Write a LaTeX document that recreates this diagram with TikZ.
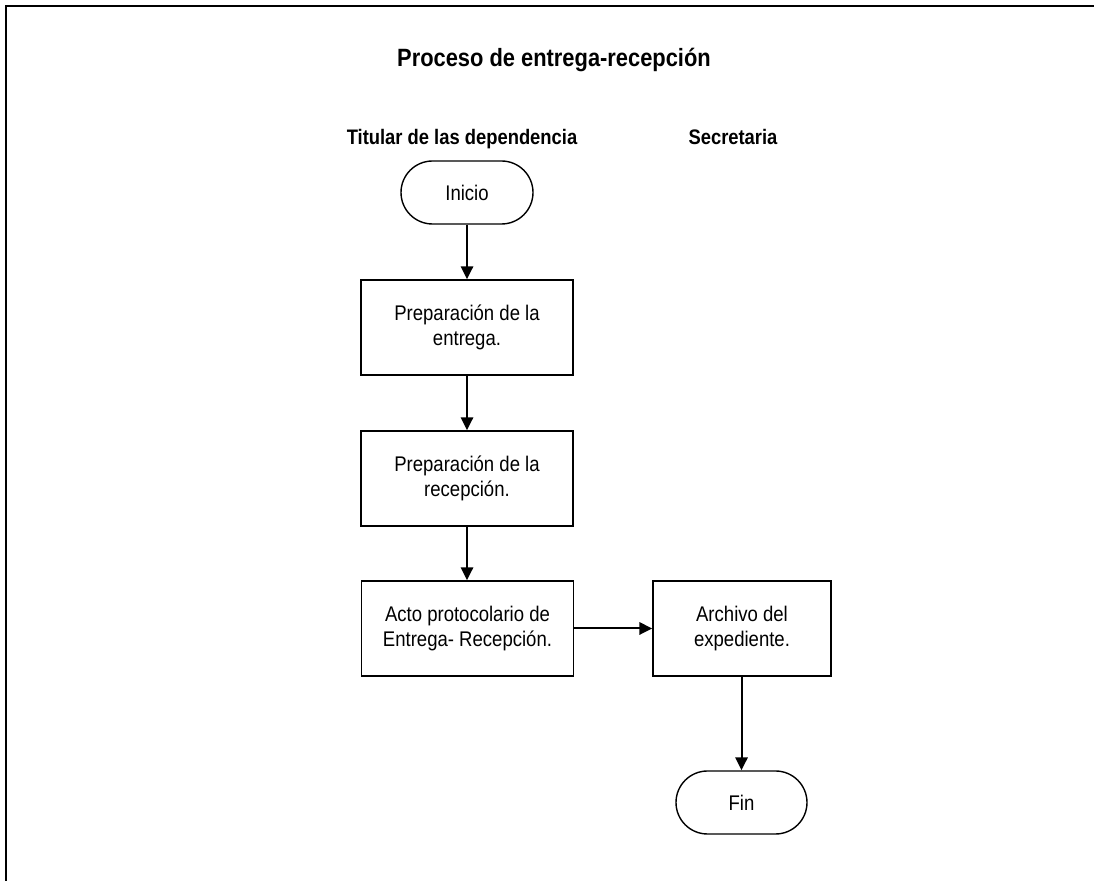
\documentclass[tikz,border=0pt]{standalone}
\usepackage{fontspec}
\setmainfont[FakeStretch=0.875]{Liberation Sans}
\usetikzlibrary{arrows.meta}
\begin{document}
\begin{tikzpicture}[x=0.5pt,y=-0.5pt,
  procbox/.style={draw=black,line width=0.7pt,minimum width=106pt,minimum height=47.5pt,inner sep=0pt,align=center,font=\fontsize{10.6}{12.8}\selectfont},
  termbox/.style={draw=black,line width=0.7pt,rounded corners=15.75pt,minimum width=66pt,minimum height=31.5pt,inner sep=0pt,font=\fontsize{10.6}{12.8}\selectfont},
  flow/.style={line width=1pt,-{Triangle[length=6.5pt,width=6.2pt]}},
  headtext/.style={inner sep=0pt,anchor=base,font=\fontsize{10.5}{12.8}\selectfont\bfseries},
  frameline/.style={line width=1.4pt}
]
\useasboundingbox (0,0) rectangle (1094,881);
\coordinate (fl) at (6,881);
\coordinate (fc) at (6,6);
\coordinate (fr) at (1094,6);
\draw[frameline] (fl) -- (fc) -- (fr);

\node[inner sep=0pt,anchor=base,font=\fontsize{12.5}{15}\selectfont\bfseries] (title) at (554,66.7) {Proceso de entrega-recepción};
\node[headtext] (h1) at (462,144.3) {Titular de las dependencia};
\node[headtext] (h2) at (733,144.3) {Secretaria};

\node[termbox] (inicio) at (467,192.5) {Inicio};
\node[procbox] (p1) at (467,327.5) {Preparación de la\\entrega.};
\node[procbox] (p2) at (467,478.5) {Preparación de la\\recepción.};
\node[procbox] (p3) at (467.5,628.5) {Acto protocolario de\\Entrega- Recepción.};
\node[procbox,minimum width=89pt] (p4) at (742,628.5) {Archivo del\\expediente.};
\node[termbox,minimum width=65.5pt] (fin) at (741.5,802.5) {Fin};

\draw[flow] (inicio) -- (p1);
\draw[flow] (p1) -- (p2);
\draw[flow] (p2.south) -- (p3.north -| p2.south);
\draw[flow] (p3) -- (p4);
\draw[flow] (p4.south -| fin.north) -- (fin.north);
\end{tikzpicture}
\end{document}
